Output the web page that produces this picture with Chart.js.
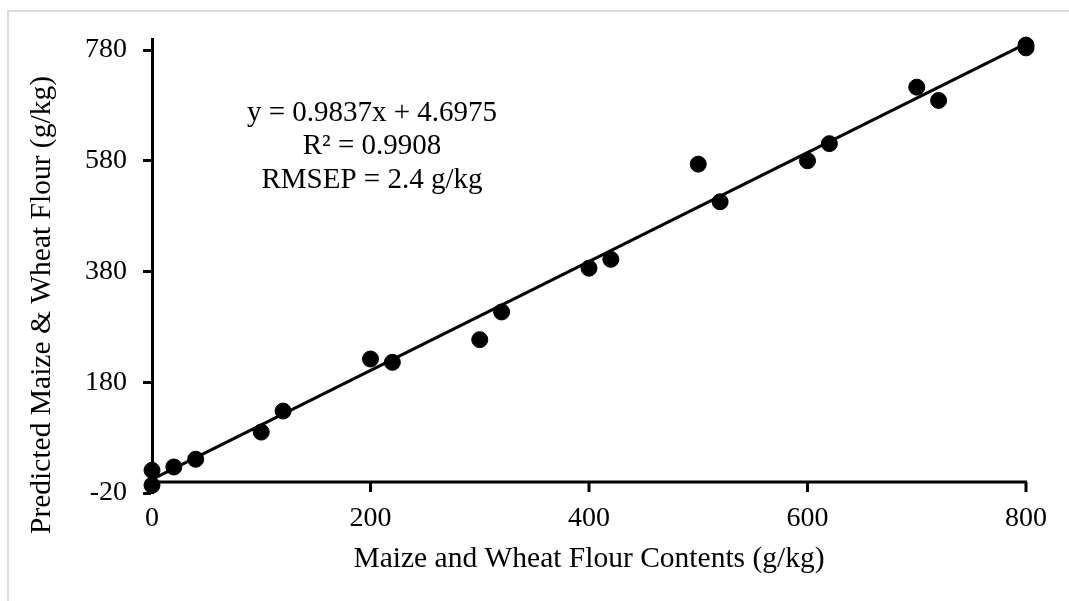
<!DOCTYPE html>
<html>
<head>
<meta charset="utf-8">
<title>Maize and Wheat Flour Prediction</title>
<script src="https://cdn.jsdelivr.net/npm/chart.js@4.4.1/dist/chart.umd.min.js"></script>
<style>
  html, body { margin: 0; padding: 0; background: #fff; overflow: hidden; }
  #frame {
    position: absolute; left: 7px; top: 10px; right: 0; bottom: 0;
    border-left: 2px solid #dcdcdc; border-top: 2px solid #dcdcdc;
  }
  #chart-wrap { position: absolute; left: 0; top: 0; width: 1069px; height: 601px; }
</style>
</head>
<body>
<div id="frame"></div>
<div id="chart-wrap"><canvas id="calibration-chart" width="1069" height="601"></canvas></div>
<script>
// Actual flour content (g/kg) and the model's predicted content (g/kg)
const contentValues   = [0, 0, 20, 40, 100, 120, 200, 220, 300, 320, 400, 420, 500, 520, 600, 620, 700, 720, 800, 800];
const predictedValues = [21, -6, 27, 41, 90, 128, 222, 216, 257, 307, 386, 402, 574, 506, 580, 611, 713, 689, 789, 784];

const xTickValues = [0, 200, 400, 600, 800];
const yTickValues = [-20, 180, 380, 580, 780];

// Linear fit reported in the annotation
const fitSlope = 0.9837;
const fitIntercept = 4.6975;
const fitRange = [0, 800];

const statLines = ['y = 0.9837x + 4.6975', 'R\u00B2 = 0.9908', 'RMSEP = 2.4 g/kg'];
const xTitle = 'Maize and Wheat Flour Contents (g/kg)';
const yTitle = 'Predicted Maize & Wheat Flour (g/kg)';

const FONT = "'Liberation Serif', 'Times New Roman', serif";
const INK = '#000';

const scatterPoints = contentValues.map((x, i) => ({ x: x, y: predictedValues[i] }));
const fitPoints = fitRange.map(x => ({ x: x, y: fitSlope * x + fitIntercept }));

// Excel-style frame: x axis sits on y = 0, titles and stats drawn as text
const axisExtras = {
  id: 'axisExtras',
  beforeDatasetsDraw(chart) {
    const { ctx, scales: { x, y } } = chart;
    const axisY = y.getPixelForValue(0);
    ctx.save();
    ctx.strokeStyle = INK;
    ctx.lineWidth = 3;
    ctx.beginPath();
    ctx.moveTo(x.left, axisY);
    ctx.lineTo(x.right + 1, axisY);
    xTickValues.forEach(v => {
      const px = x.getPixelForValue(v);
      ctx.moveTo(px, axisY);
      ctx.lineTo(px, axisY + 10);
    });
    ctx.stroke();
    ctx.restore();
  },
  afterDraw(chart) {
    const { ctx } = chart;
    ctx.save();
    ctx.fillStyle = INK;
    ctx.font = '29.5px ' + FONT;
    ctx.textAlign = 'center';
    ctx.textBaseline = 'middle';

    // rotated y axis title
    ctx.save();
    ctx.translate(42, 305);
    ctx.rotate(-Math.PI / 2);
    ctx.fillText(yTitle, 0, 0);
    ctx.restore();

    // regression statistics
    ctx.font = '29px ' + FONT;
    statLines.forEach((line, i) => {
      ctx.fillText(line, 372, 113 + i * 33.5);
    });
    ctx.restore();
  }
};

new Chart(document.getElementById('calibration-chart'), {
  type: 'scatter',
  data: {
    datasets: [
      {
        label: 'Samples',
        data: scatterPoints,
        backgroundColor: INK,
        borderColor: INK,
        pointRadius: 8,
        pointHoverRadius: 8,
        clip: false
      },
      {
        type: 'line',
        label: 'Linear fit',
        data: fitPoints,
        borderColor: INK,
        borderWidth: 3,
        pointRadius: 0,
        fill: false,
        clip: false
      }
    ]
  },
  options: {
    responsive: false,
    animation: false,
    events: [],
    layout: { padding: { top: 39, right: 43, bottom: 0, left: 0 } },
    plugins: {
      legend: { display: false },
      tooltip: { enabled: false }
    },
    scales: {
      x: {
        type: 'linear',
        min: 0,
        max: 800,
        afterFit: s => { s.height = 108; },
        afterBuildTicks: s => { s.ticks = xTickValues.map(v => ({ value: v })); },
        border: { display: false },
        grid: { display: false, drawTicks: false },
        ticks: {
          color: INK,
          font: { family: FONT, size: 28 },
          padding: 9,
          maxRotation: 0
        },
        title: {
          display: true,
          text: xTitle,
          color: INK,
          font: { family: FONT, size: 29.5 },
          padding: { top: 0, bottom: 24 }
        }
      },
      y: {
        type: 'linear',
        min: -20,
        max: 800,
        afterFit: s => { s.width = 152; },
        afterBuildTicks: s => { s.ticks = yTickValues.map(v => ({ value: v })); },
        border: { display: true, color: INK, width: 3 },
        grid: {
          drawOnChartArea: false,
          drawTicks: true,
          tickLength: 9,
          tickWidth: 3,
          tickColor: INK
        },
        ticks: {
          color: INK,
          font: { family: FONT, size: 28 },
          padding: 16
        }
      }
    }
  },
  plugins: [axisExtras]
});
</script>
</body>
</html>
